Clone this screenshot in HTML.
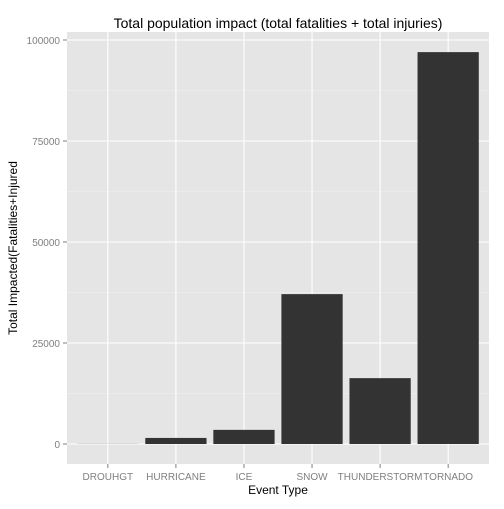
<!DOCTYPE html>
<html><head><meta charset="utf-8"><style>
body{margin:0;background:#fff;}
svg text{font-family:"Liberation Sans",Arial,sans-serif;}
</style></head><body>
<svg id="chart" width="504" height="504">
<rect x="0" y="0" width="504" height="504" fill="#fff"/>
<rect x="67" y="32" width="422" height="432" fill="#e5e5e5"/>
<g id="grid"></g><g id="bars"></g><g id="axes"></g>
<text x="278" y="28" font-size="14" text-anchor="middle" fill="#000">Total population impact (total fatalities + total injuries)</text>
<text x="278" y="494" font-size="12" text-anchor="middle" fill="#000">Event Type</text>
<text x="17" y="248" font-size="12" text-anchor="middle" fill="#000" transform="rotate(-90 17 248)">Total Impacted(Fatalities+Injured</text>
</svg>
<script>
const categories=["DROUHGT","HURRICANE","ICE","SNOW","THUNDERSTORM","TORNADO"];
const values=[30,1500,3500,37100,16300,97000];
const yTicks=[0,25000,50000,75000,100000];
const tickLabels=["0","25000","50000","75000","100000"];
const NS="http://www.w3.org/2000/svg";
const x0=67,x1=489,step=(x1-x0)/(categories.length-1+1.2);
function xs(i){return x0+step*(i+0.6);}
function ys(v){return 444-v*(404/100000);}
function mk(t,a,p){const e=document.createElementNS(NS,t);for(const k in a)e.setAttribute(k,a[k]);p.appendChild(e);return e;}
const grid=document.getElementById('grid'),bars=document.getElementById('bars'),axes=document.getElementById('axes');
yTicks.forEach((v,i)=>{
 if(i<yTicks.length-1){const l=mk('line',{x1:x0,x2:x1,y1:ys(v+12500),y2:ys(v+12500),stroke:'#f2f2f2','stroke-width':0.6},grid);
 
 }
 const g=mk('line',{x1:x0,x2:x1,y1:ys(v),y2:ys(v),stroke:'#fff','stroke-width':1.1},grid);
 
 
 const t=mk('line',{x1:63,x2:67,y1:ys(v),y2:ys(v),stroke:'#7f7f7f'},axes);
 
 
 const tx=mk('text',{x:60,y:ys(v)+4,'font-size':10,'text-anchor':'end',fill:'#7f7f7f'},axes);
 tx.textContent=tickLabels[i];
 
 
});
categories.forEach((c,i)=>{
 const g=mk('line',{x1:xs(i),x2:xs(i),y1:32,y2:464,stroke:'#fff','stroke-width':1.1},grid);
 
 
 const w=step*0.9;
 const b=mk('rect',{x:xs(i)-w/2,y:ys(values[i]),width:w,height:ys(0)-ys(values[i]),fill:'#333333'},bars);
 
 
 const t=mk('line',{x1:xs(i),x2:xs(i),y1:464,y2:468,stroke:'#7f7f7f'},axes);
 
 
 const tx=mk('text',{x:xs(i),y:480,'font-size':10,'text-anchor':'middle',fill:'#7f7f7f'},axes);
 tx.textContent=c;
 
 
});
</script>
</body></html>
